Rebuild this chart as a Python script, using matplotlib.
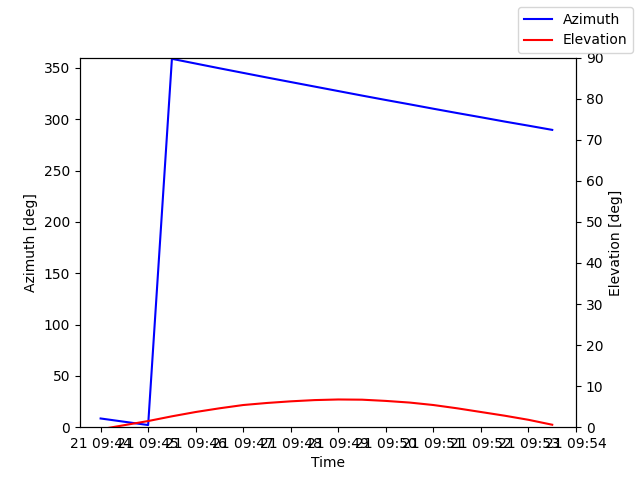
import numpy as np
import matplotlib
matplotlib.use('Agg')
import matplotlib.pyplot as plt
import matplotlib.dates as mdates
from datetime import datetime, timedelta

# pass samples, every 30 s
start = datetime(2023, 3, 21, 9, 44, 0)
times = [start + timedelta(seconds=30 * i) for i in range(20)]

azimuth = [8.5, 5.3, 2.1, 358.8, 354.2, 349.6, 345.1, 340.6, 336.2, 331.8,
           327.4, 323.0, 318.7, 314.5, 310.2, 306.0, 301.9, 297.7, 293.7, 289.6]
elevation = [-0.5, 0.5, 1.5, 2.65, 3.7, 4.6, 5.4, 5.9, 6.3, 6.6,
             6.75, 6.7, 6.4, 6.0, 5.4, 4.6, 3.7, 2.8, 1.8, 0.6]

fig, ax = plt.subplots(figsize=(6.4, 4.8), dpi=100)
ax.plot(times, azimuth, color='blue', label='Azimuth')
ax.set_ylim(0, 360)
ax.set_xlabel('Time')
ax.set_ylabel('Azimuth [deg]')

ax2 = ax.twinx()
ax2.plot(times, elevation, color='red', label='Elevation')
ax2.set_ylim(0, 90)
ax2.set_ylabel('Elevation [deg]')

ax.set_xlim(start - timedelta(seconds=26), datetime(2023, 3, 21, 9, 54, 0))
ax.xaxis.set_major_locator(mdates.MinuteLocator())
ax.xaxis.set_major_formatter(mdates.DateFormatter('%d %H:%M'))

fig.legend(loc='upper right')
fig.savefig('out.png')
